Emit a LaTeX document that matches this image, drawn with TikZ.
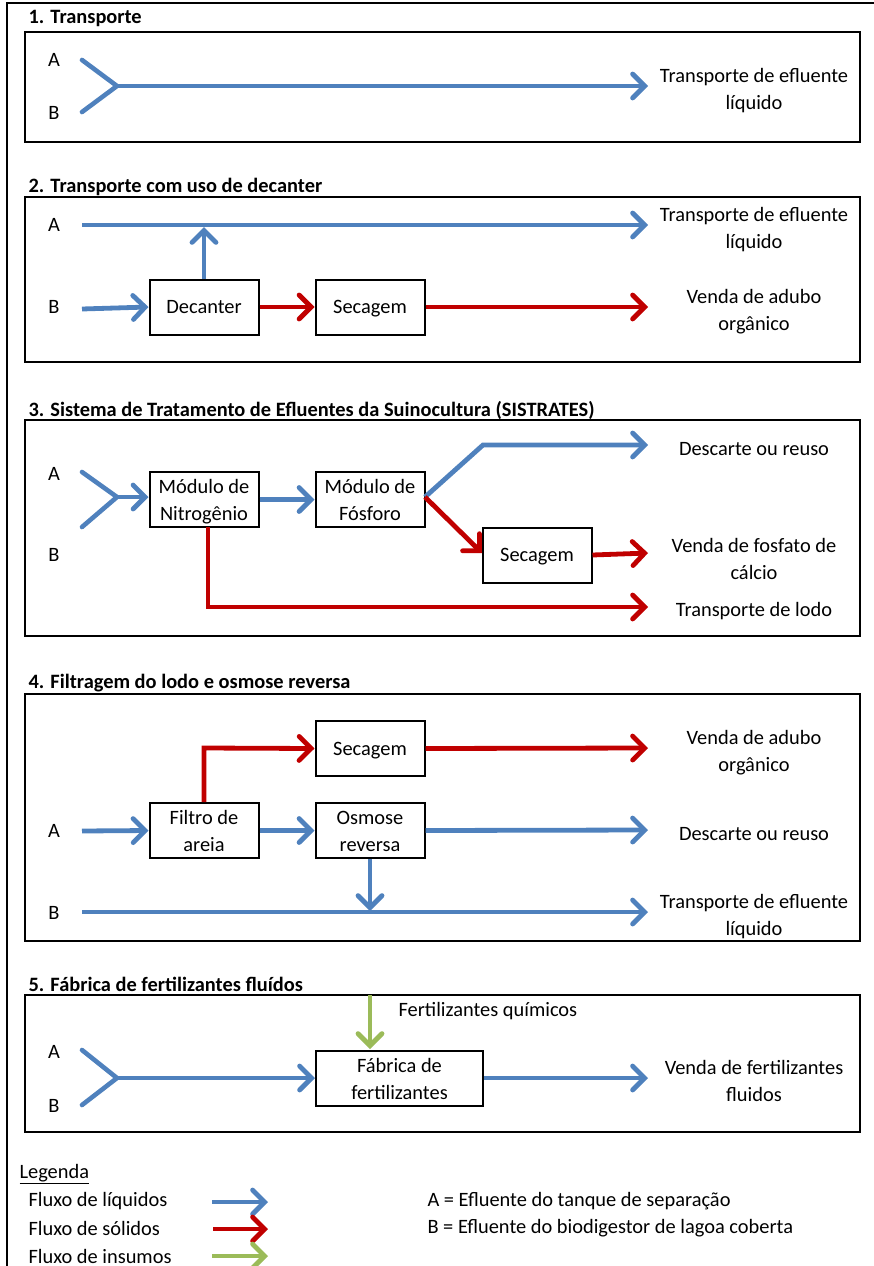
\documentclass[tikz,border=0pt]{standalone}
\usepackage{fontspec}
\setmainfont{Carlito}
\usetikzlibrary{arrows.meta}
\definecolor{liq}{HTML}{4F81BD}
\definecolor{sol}{HTML}{C00000}
\definecolor{ins}{HTML}{9BBB59}
\tikzset{
  flow/.style={line width=4.8pt, -{Straight Barb[length=12pt,width=24pt,line cap=round]}},
  liqflow/.style={flow, draw=liq},
  solflow/.style={flow, draw=sol},
  insflow/.style={flow, draw=ins},
  liqline/.style={line width=4.6pt, draw=liq},
  frame/.style={draw=black, line width=2pt},
  procbox/.style={draw=black, line width=2pt, minimum width=109pt, minimum height=55pt, align=center, inner sep=0pt, font=\fontsize{20.4}{27}\selectfont},
  oneline/.style={text height=13pt, text depth=0pt},
  twoline/.style={text height=42pt, text depth=0pt},
  outtxt/.style={align=center, font=\fontsize{20.4}{27}\selectfont, yshift=-2.5pt},
  lbl/.style={font=\fontsize{20.4}{24}\selectfont},
  ttl/.style={anchor=west, font=\fontsize{20.4}{22}\selectfont\bfseries},
}
\begin{document}
\begin{tikzpicture}[x=1pt,y=-1pt]
\useasboundingbox (0,0) rectangle (874,1266);
% outer frame
\draw[line width=2pt] (7,1270) -- (7,3) -- (880,3);

% ---------- Section 1 ----------
\node[ttl] (t1) at (25,18) {1. Transporte};
\draw[frame] (25,32) rectangle (860,142);
\node[lbl] (a1) at (54,60) {A};
\node[lbl] (b1) at (54,113) {B};
\coordinate (a1s) at (82,60);
\coordinate (b1s) at (82,112);
\coordinate (j1) at (117,86);
\node[outtxt] (o1) at (754,88) {Transporte de efluente\\líquido};
\draw[liqline, line cap=round] (a1s) -- (j1) -- (b1s);
\draw[liqflow] (j1) -- (648,86) coordinate (o1t);

% ---------- Section 2 ----------
\node[ttl] (t2) at (25,187) {2. Transporte com uso de decanter};
\draw[frame] (25,197) rectangle (860,362);
\node[lbl] (a2) at (54,225) {A};
\node[lbl] (b2) at (54,307) {B};
\node[procbox, oneline] (dec) at (204,307) {Decanter};
\node[procbox, oneline] (sec2) at (370,307) {Secagem};
\node[outtxt] (o2a) at (754,227) {Transporte de efluente\\líquido};
\node[outtxt] (o2b) at (754,309) {Venda de adubo\\orgânico};
\coordinate (a2s) at (82,225);
\coordinate (a2e) at (648,225);
\coordinate (b2s) at (82,309);
\draw[liqflow] (a2s) -- (a2e);
\draw[liqflow] (b2s) -- (dec.west);
\draw[liqflow] (dec.north) -- (204,227);
\draw[solflow] (dec.east) -- (sec2.west);
\draw[solflow] (sec2.east) -- (648,307);

% ---------- Section 3 ----------
\node[ttl] (t3) at (25,410) {3. Sistema de Tratamento de Efluentes da Suinocultura (SISTRATES)};
\draw[frame] (25,420) rectangle (860,636);
\node[lbl] (a3) at (54,474) {A};
\node[lbl] (b3) at (54,555) {B};
\node[procbox, twoline] (nit) at (204,499.5) {Módulo de\\Nitrogênio};
\node[procbox, twoline] (fos) at (370,499.5) {Módulo de\\Fósforo};
\node[procbox, oneline] (sec3) at (537,555) {Secagem};
\node[outtxt] (o3a) at (754,447) {Descarte ou reuso};
\node[outtxt] (o3b) at (754,556) {Venda de fosfato de\\cálcio};
\node[outtxt] (o3c) at (754,609) {Transporte de lodo};
\coordinate (a3s) at (82,472);
\coordinate (b3s) at (82,527);
\coordinate (j3) at (117,497);
\draw[liqline, line cap=round] (a3s) -- (j3) -- (b3s);
\draw[liqflow] (j3) -- (nit.west |- j3);
\draw[liqflow] (nit.east) -- (fos.west);
\coordinate (f3) at (425,497);
\draw[liqflow] (f3) -- (483,445) -- (648,445);
\draw[solflow] (f3) -- (482,553);
\draw[solflow] (sec3.east) -- (648,553);
\draw[solflow] (208,527) -- (208,607) -- (648,607);

% ---------- Section 4 ----------
\node[ttl] (t4) at (25,683) {4. Filtragem do lodo e osmose reversa};
\draw[frame] (25,694) rectangle (860,941);
\node[lbl] (a4) at (54,831) {A};
\node[lbl] (b4) at (54,913) {B};
\node[procbox, oneline] (sec4) at (370,748.5) {Secagem};
\node[procbox, twoline] (fil) at (204,830.5) {Filtro de\\areia};
\node[procbox, twoline] (osm) at (370,830.5) {Osmose\\reversa};
\node[outtxt] (o4a) at (754,750) {Venda de adubo\\orgânico};
\node[outtxt] (o4b) at (754,832) {Descarte ou reuso};
\node[outtxt] (o4c) at (754,914) {Transporte de efluente\\líquido};
\draw[solflow] (fil.north -| 204,0) -- (204,748) -- (sec4.west);
\draw[solflow] (sec4.east) -- (648,748);
\draw[liqflow] (82,831) -- (fil.west);
\draw[liqflow] (fil.east) -- (osm.west);
\draw[liqflow] (osm.east) -- (648,830);
\draw[liqflow] (osm.south) -- (370,911);
\draw[liqflow] (82,912) -- (648,912);

% ---------- Section 5 ----------
\node[ttl] (t5) at (25,984) {5. Fábrica de fertilizantes fluídos};
\draw[frame] (25,995) rectangle (860,1132);
\node[lbl] (a5) at (54,1052) {A};
\node[lbl] (b5) at (54,1106) {B};
\node[procbox, twoline, minimum width=167pt] (fab) at (399.5,1078) {Fábrica de\\fertilizantes};
\node[outtxt] (o5) at (754,1078) {Venda de fertilizantes\\fluidos};
\node[lbl, anchor=west] (fq) at (395,1011) {Fertilizantes químicos};
\coordinate (a5s) at (82,1050);
\coordinate (b5s) at (82,1105);
\coordinate (j5) at (117,1078);
\draw[liqline, line cap=round] (a5s) -- (j5) -- (b5s);
\draw[liqflow] (j5) -- (fab.west);
\draw[insflow] (370,995) -- (370,1049);
\draw[liqflow] (fab.east) -- (648,1078);

% ---------- Legend ----------
\node[lbl, anchor=west] (leg) at (16,1174) {\underline{Legenda}};
\node[lbl, anchor=west] (l1) at (25,1201) {Fluxo de líquidos};
\node[lbl, anchor=west] (l2) at (25,1228) {Fluxo de sólidos};
\node[lbl, anchor=west] (l3) at (25,1256) {Fluxo de insumos};
\draw[liqflow] (212,1202) -- (268,1202);
\draw[solflow] (213,1229) -- (268,1229);
\draw[insflow] (212,1256) -- (268,1256);
\node[lbl, anchor=west] (ka) at (424,1201) {A = Efluente do tanque de separação};
\node[lbl, anchor=west] (kb) at (424,1228) {B = Efluente do biodigestor de lagoa coberta};
\end{tikzpicture}
\end{document}
